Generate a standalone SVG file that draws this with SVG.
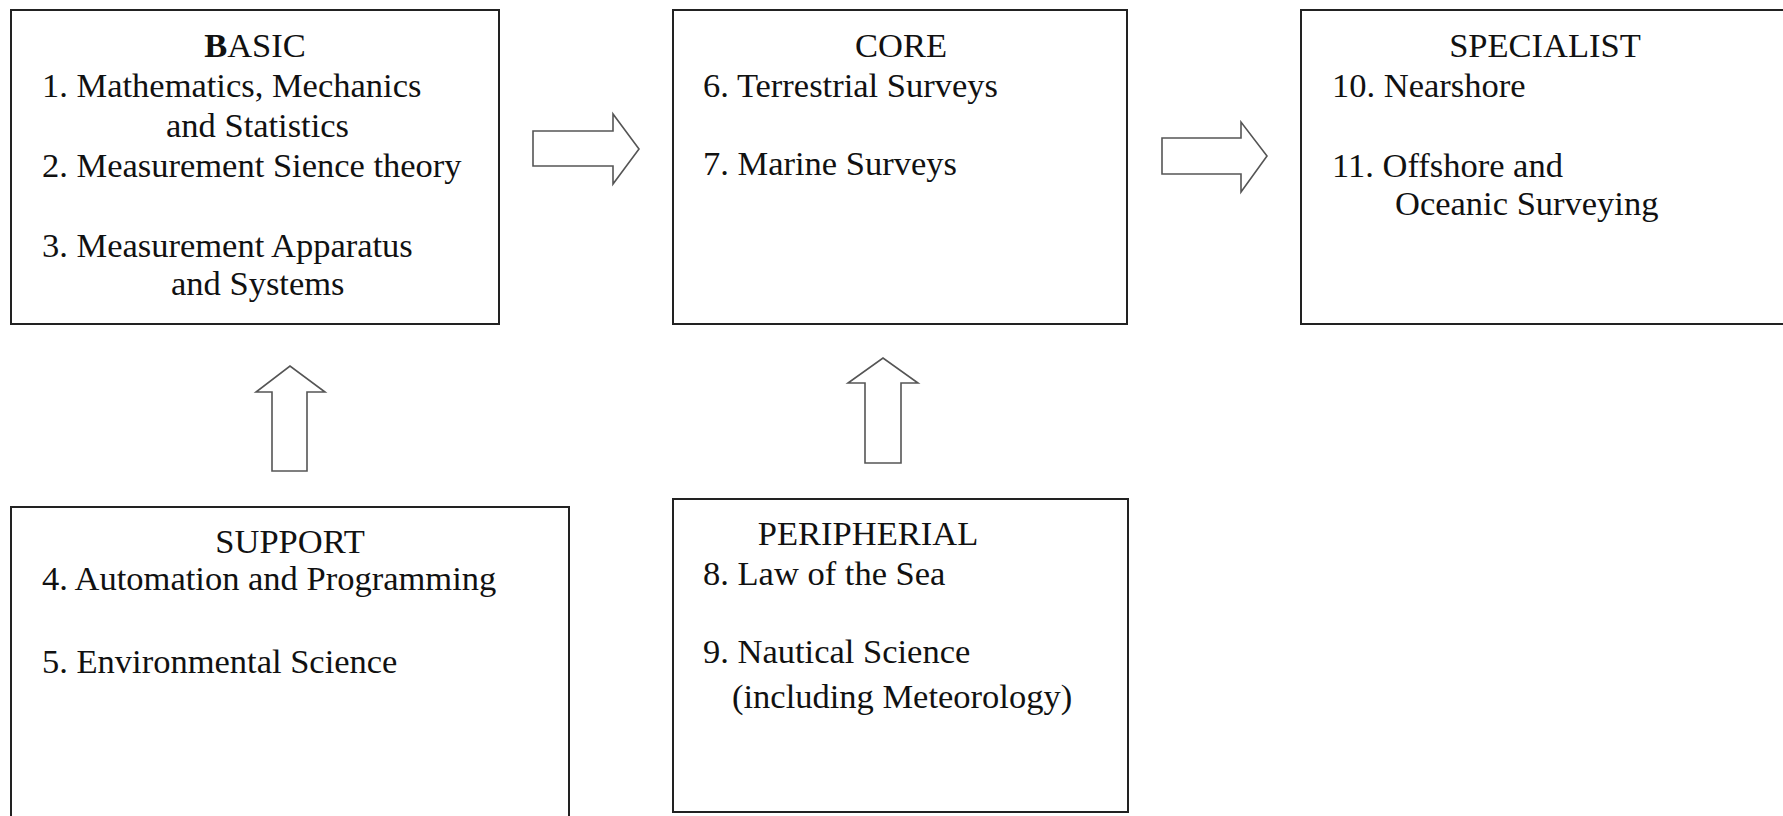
<svg xmlns="http://www.w3.org/2000/svg" width="1783" height="816" viewBox="0 0 1783 816">
<style>
.box{fill:#fff;stroke:#222;stroke-width:2}
.arr{fill:#fff;stroke:#555;stroke-width:1.6;stroke-linejoin:miter}
text{font-family:"Liberation Serif","Times New Roman",serif;font-size:34.5px;fill:#111}
.c{text-anchor:middle}
</style>
<rect width="1783" height="816" fill="#fff"/>
<g id="connectors">
<polygon class="arr" points="533,131 613,131 613,114 639,149 613,184 613,166 533,166"/>
<polygon class="arr" points="1162,138 1241,138 1241,122 1267,156 1241,192 1241,174 1162,174"/>
<polygon class="arr" points="272,471 272,392 256,392 290,366 325,392 307,392 307,471"/>
<polygon class="arr" points="865,463 865,383 848,383 883,358 918,383 901,383 901,463"/>
</g>
<g id="basic">
<rect class="box" x="11" y="10" width="488" height="314"/>
<text class="c" x="255" y="57"><tspan font-weight="bold">B</tspan>ASIC</text>
<text x="42" y="97">1. Mathematics, Mechanics</text>
<text x="166" y="137">and Statistics</text>
<text x="42" y="177">2. Measurement Sience theory</text>
<text x="42" y="257">3. Measurement Apparatus</text>
<text x="171" y="295">and Systems</text>
</g>
<g id="core">
<rect class="box" x="673" y="10" width="454" height="314"/>
<text class="c" x="901" y="57">CORE</text>
<text x="703" y="97">6. Terrestrial Surveys</text>
<text x="703" y="175">7. Marine Surveys</text>
</g>
<g id="specialist">
<rect class="box" x="1301" y="10" width="500" height="314"/>
<text class="c" x="1545" y="57">SPECIALIST</text>
<text x="1332" y="97">10. Nearshore</text>
<text x="1332" y="177">11. Offshore and</text>
<text x="1395" y="215">Oceanic Surveying</text>
</g>
<g id="support">
<rect class="box" x="11" y="507" width="558" height="330"/>
<text class="c" x="290" y="553">SUPPORT</text>
<text x="42" y="590">4. Automation and Programming</text>
<text x="42" y="673">5. Environmental Science</text>
</g>
<g id="peripherial">
<rect class="box" x="673" y="499" width="455" height="313"/>
<text class="c" x="868" y="545">PERIPHERIAL</text>
<text x="703" y="585">8. Law of the Sea</text>
<text x="703" y="663">9. Nautical Science</text>
<text x="732" y="708">(including Meteorology)</text>
</g>
</svg>
